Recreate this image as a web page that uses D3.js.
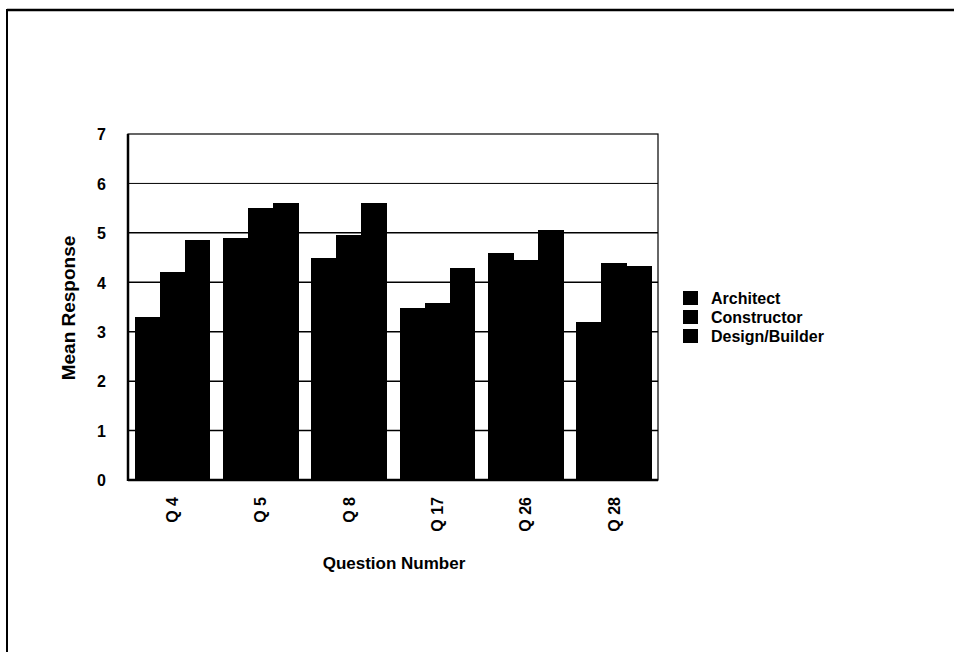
<!DOCTYPE html>
<html>
<head>
<meta charset="utf-8">
<script src="https://cdn.jsdelivr.net/npm/d3@7"></script>
<style>
  html, body { margin: 0; padding: 0; background: #fff; }
  svg { display: block; }
  text { font-family: "Liberation Sans", Arial, sans-serif; font-weight: bold; fill: #000; }
</style>
</head>
<body>
<svg id="chart" width="954" height="652"></svg>
<script>
// Mean survey response per question, by respondent group
const categories = ["Q 4", "Q 5", "Q 8", "Q 17", "Q 26", "Q 28"];
const seriesNames = ["Architect", "Constructor", "Design/Builder"];
const architect = [3.3, 4.9, 4.5, 3.48, 4.6, 3.2];
const constructor = [4.2, 5.5, 4.96, 3.58, 4.45, 4.4];
const designBuilder = [4.86, 5.6, 5.6, 4.29, 5.06, 4.33];
const yTicks = [0, 1, 2, 3, 4, 5, 6, 7];

const seriesValues = [architect, constructor, designBuilder];
const rows = categories.map((c, i) => ({
  category: c,
  values: seriesNames.map((s, k) => ({ series: s, value: seriesValues[k][i] }))
}));

const svg = d3.select("#chart");

// outer frame (top and left edges visible)
svg.append("line").attr("x1", 7).attr("x2", 954).attr("y1", 10).attr("y2", 10)
  .attr("stroke", "#000").attr("stroke-width", 2.5);
svg.append("line").attr("x1", 7).attr("x2", 7).attr("y1", 9).attr("y2", 652)
  .attr("stroke", "#000").attr("stroke-width", 2);

const plot = { left: 128, right: 658, top: 134, bottom: 480 };

const x0 = d3.scaleBand().domain(categories)
  .range([plot.left, plot.right]).paddingInner(0.15).paddingOuter(0.075);
const x1 = d3.scaleBand().domain(seriesNames).range([0, x0.bandwidth()]).padding(0);
const y = d3.scaleLinear().domain([0, 7]).range([plot.bottom, plot.top]);

// horizontal gridlines
svg.append("g").selectAll("line").data(yTicks.filter(t => t > 0 && t < 7)).join("line")
  .attr("x1", plot.left).attr("x2", plot.right)
  .attr("y1", d => y(d)).attr("y2", d => y(d))
  .attr("stroke", "#000").attr("stroke-width", d => d === 6 ? 1 : 1.5);

// bars (adjacent bars in a group touch, so draw them with crisp edges)
svg.append("g").attr("shape-rendering", "crispEdges")
  .selectAll("g").data(rows).join("g")
  .attr("transform", d => `translate(${x0(d.category)},0)`)
  .selectAll("rect").data(d => d.values).join("rect")
  .attr("x", d => x1(d.series))
  .attr("y", d => y(d.value))
  .attr("width", x1.bandwidth() + 0.6)
  .attr("height", d => y(0) - y(d.value))
  .attr("fill", "#000");

// plot frame
svg.append("rect").attr("x", plot.left).attr("y", plot.top)
  .attr("width", plot.right - plot.left).attr("height", plot.bottom - plot.top)
  .attr("fill", "none").attr("stroke", "#000").attr("stroke-width", 1.2);
svg.append("line").attr("x1", plot.left).attr("x2", plot.left)
  .attr("y1", plot.top).attr("y2", plot.bottom + 1).attr("stroke", "#000").attr("stroke-width", 2.5);
svg.append("line").attr("x1", plot.left).attr("x2", plot.right)
  .attr("y1", plot.bottom).attr("y2", plot.bottom).attr("stroke", "#000").attr("stroke-width", 2.5);

// y axis labels
const yAxis = d3.axisLeft(y).tickValues(yTicks).tickSize(0).tickPadding(22).tickFormat(d3.format("d"));
const yg = svg.append("g").attr("transform", `translate(${plot.left},0)`).call(yAxis);
yg.select(".domain").remove();
yg.selectAll("text").style("font-size", "16px").attr("dy", "0.36em");

// x axis labels, rotated
const xAxis = d3.axisBottom(x0).tickSize(0).tickPadding(0);
const xg = svg.append("g").attr("transform", `translate(0,${plot.bottom})`).call(xAxis);
xg.select(".domain").remove();
xg.selectAll("text")
  .style("font-size", "16px")
  .attr("text-anchor", "end")
  .attr("transform", "rotate(-90)")
  .attr("x", -17).attr("y", 0).attr("dy", "0.36em");

// axis titles
svg.append("text").attr("transform", "translate(75,308) rotate(-90)")
  .attr("text-anchor", "middle").style("font-size", "19px").text("Mean Response");
svg.append("text").attr("x", 394).attr("y", 569)
  .attr("text-anchor", "middle").style("font-size", "17px").text("Question Number");

// legend
const legend = svg.append("g").attr("transform", "translate(683,291)");
const item = legend.selectAll("g").data(seriesNames).join("g")
  .attr("transform", (d, i) => `translate(0,${i * 19})`);
item.append("rect").attr("width", 15).attr("height", 14).attr("fill", "#000");
item.append("text").attr("x", 28).attr("y", 7).attr("dy", "0.36em")
  .style("font-size", "16px").text(d => d);
</script>
</body>
</html>
